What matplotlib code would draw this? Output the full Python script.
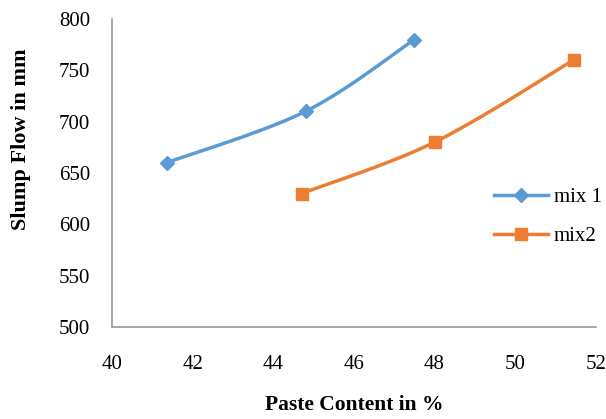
import numpy as np
import matplotlib
matplotlib.use("Agg")
from matplotlib import pyplot as plt

# data
mix1_x = [41.35, 44.8, 47.5]
mix1_y = [660, 710, 780]
mix2_x = [44.7, 48.0, 51.45]
mix2_y = [630, 680, 760]

x_ticks = [40, 42, 44, 46, 48, 50, 52]
y_ticks = [500, 550, 600, 650, 700, 750, 800]


# smooth line like excel's "smoothed line" (catmull-rom through the points)
def smooth(xs, ys, n=40):
    p = np.column_stack([xs, ys]).astype(float)
    p = np.vstack([p[0], p, p[-1]])
    out = []
    for i in range(1, len(p) - 2):
        p0, p1, p2, p3 = p[i - 1], p[i], p[i + 1], p[i + 2]
        for t in np.linspace(0, 1, n):
            t2 = t * t
            t3 = t2 * t
            pt = 0.5 * ((2 * p1) + (-p0 + p2) * t + (2 * p0 - 5 * p1 + 4 * p2 - p3) * t2
                        + (-p0 + 3 * p1 - 3 * p2 + p3) * t3)
            out.append(pt)
    out = np.array(out)
    return out[:, 0], out[:, 1]


plt.rcParams['font.family'] = ['Liberation Serif', 'DejaVu Serif']

fig = plt.figure(figsize=(6.06, 4.19), dpi=100)
ax = fig.add_axes([0.185, 0.2196, 0.798, 0.7351])

blue = '#5B9BD5'
orange = '#ED7D31'

sx, sy = smooth(mix1_x, mix1_y)
ax.plot(sx, sy, color=blue, lw=2.5, solid_capstyle='round')
ax.plot(mix1_x, mix1_y, ls='none', marker='D', ms=7, color=blue)
ax.plot([], [], color=blue, lw=2.5, marker='D', ms=7, label='mix 1')

sx, sy = smooth(mix2_x, mix2_y)
ax.plot(sx, sy, color=orange, lw=2.5, solid_capstyle='round')
ax.plot(mix2_x, mix2_y, ls='none', marker='s', ms=8.5, color=orange)
ax.plot([], [], color=orange, lw=2.5, marker='s', ms=8.5, label='mix2')

ax.set_xlim(40, 52)
ax.set_ylim(500, 800)
ax.set_xticks(x_ticks)
ax.set_yticks(y_ticks)
ax.tick_params(length=0, labelsize=15)
ax.tick_params(axis='y', pad=16)
ax.tick_params(axis='x', pad=20)

for s in ['top', 'right']:
    ax.spines[s].set_visible(False)
for s in ['left', 'bottom']:
    ax.spines[s].set_color('#999999')
    ax.spines[s].set_linewidth(1.2)

ax.set_xlabel('Paste Content in %', fontsize=15.5, fontweight='bold')
ax.set_ylabel('Slump Flow in mm', fontsize=16, fontweight='bold')
ax.xaxis.set_label_coords(0.5, -0.253)
ax.yaxis.set_label_coords(-0.188, 0.61)
ax.xaxis.label.set_va('center')
ax.yaxis.label.set_va('center')

ax.legend(loc='center left', bbox_to_anchor=(0.789, 0.358), frameon=False, fontsize=15,
          handlelength=2.6, labelspacing=0.95, handletextpad=0.3,
          borderpad=0, borderaxespad=0)

fig.savefig('out.png', dpi=100)
